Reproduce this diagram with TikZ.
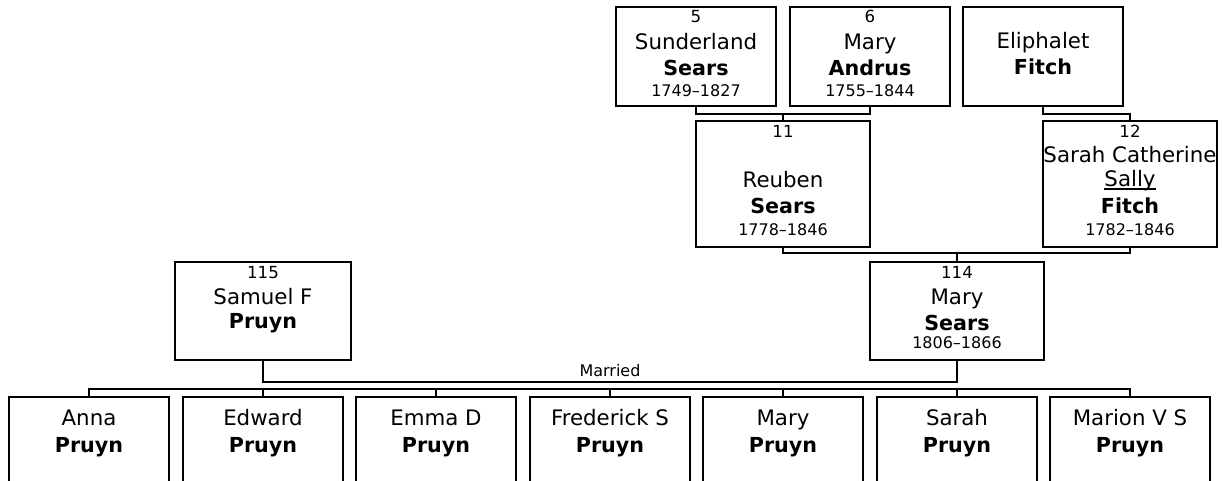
\documentclass[tikz,border=0pt]{standalone}
\usepackage{fontspec}
\setmainfont{DejaVu Sans}
\begin{document}
\begin{tikzpicture}[x=0.75pt,y=-0.75pt,
  pbox/.style={draw, line width=1.5pt, inner sep=0pt},
  link/.style={line width=1.5pt},
  num/.style={font=\fontsize{12.5}{13}\selectfont, inner sep=0pt, anchor=base},
  given/.style={font=\fontsize{16}{18}\selectfont, inner sep=0pt, anchor=base},
  sur/.style={font=\bfseries\fontsize{15.5}{18}\selectfont, inner sep=0pt, anchor=base},
  yrs/.style={font=\fontsize{12}{13}\selectfont, inner sep=0pt, anchor=base},
  small/.style={font=\fontsize{12}{13}\selectfont, inner sep=0pt, anchor=base}]
\useasboundingbox (0,0) rectangle (1222,481);
\clip (0,0) rectangle (1222,481);

% top row (160x99 px)
\node[pbox, minimum width=120pt, minimum height=74.25pt] (n5) at (696,56.5) {};
\node[pbox, minimum width=120pt, minimum height=74.25pt] (n6) at (870,56.5) {};
\node[pbox, minimum width=120pt, minimum height=74.25pt] (eli) at (1043,56.5) {};
\node[num] (n5a) at (696,23) {5};
\node[given] (n5b) at (696,50) {Sunderland};
\node[sur] (n5c) at (696,76) {Sears};
\node[yrs] (n5d) at (696,97) {1749–1827};
\node[num] (n6a) at (870,23) {6};
\node[given] (n6b) at (870,50) {Mary};
\node[sur] (n6c) at (870,76) {Andrus};
\node[yrs] (n6d) at (870,97) {1755–1844};
\node[given] (elib) at (1043,49) {Eliphalet};
\node[sur] (elic) at (1043,75) {Fitch};

% second row (174x126 px)
\node[pbox, minimum width=130.5pt, minimum height=94.5pt] (n11) at (783,184) {};
\node[pbox, minimum width=130.5pt, minimum height=94.5pt] (n12) at (1130,184) {};
\node[num] (n11a) at (783,138) {11};
\node[given] (n11b) at (783,188) {Reuben};
\node[sur] (n11c) at (783,214) {Sears};
\node[yrs] (n11d) at (783,236) {1778–1846};
\node[num] (n12a) at (1130,138) {12};
\node[given] (n12b) at (1130,163) {Sarah Catherine};
\node[given] (n12n) at (1130,187) {Sally};
\draw[line width=1pt] ([yshift=-1.6pt]n12n.base west) -- ([yshift=-1.6pt]n12n.base east);
\node[sur] (n12c) at (1130,214) {Fitch};
\node[yrs] (n12d) at (1130,236) {1782–1846};

% third row (176/174x98 px)
\node[pbox, minimum width=132pt, minimum height=73.5pt] (n115) at (263,311) {};
\node[pbox, minimum width=130.5pt, minimum height=73.5pt] (n114) at (957,311) {};
\node[num] (n115a) at (263,278) {115};
\node[given] (n115b) at (263,305) {Samuel F};
\node[sur] (n115c) at (263,329) {Pruyn};
\node[num] (n114a) at (957,278) {114};
\node[given] (n114b) at (957,305) {Mary};
\node[sur] (n114c) at (957,330) {Sears};
\node[yrs] (n114d) at (957,349) {1806–1866};

% children (160 px wide, top at 397)
\foreach \i/\x/\g in {1/89/Anna, 2/263/Edward, 3/436/Emma D, 4/610/Frederick S, 5/783/Mary, 6/957/Sarah, 7/1130/Marion V S}{
  \node[pbox, minimum width=120pt, minimum height=90pt] (c\i) at (\x,457) {};
  \node[given] (c\i g) at (\x,425) {\g};
  \node[sur] (c\i s) at (\x,452) {Pruyn};
}

% connectors
\coordinate (j11) at (783,114);
\draw[link] (n5.south) |- (j11) -| (n6.south);
\draw[link] (j11) -- (n11.north);
\coordinate (j12) at (1130,114);
\draw[link] (eli.south) |- (j12) -- (n12.north);
\coordinate (j114) at (957,253);
\draw[link] (n11.south) |- (j114) -| (n12.south);
\draw[link] (j114) -- (n114.north);
\coordinate (mar) at (610,382);
\draw[link] (n115.south) |- (mar) -| (n114.south);
\node[small] (marlab) at (610,376) {Married};
\coordinate (cbar) at (610,389);
\draw[link] (c1.north) |- (cbar) -| (c7.north);
\foreach \i in {2,...,6}{
  \draw[link] (c\i.north) -- (c\i.north |- cbar);
}
\end{tikzpicture}
\end{document}
